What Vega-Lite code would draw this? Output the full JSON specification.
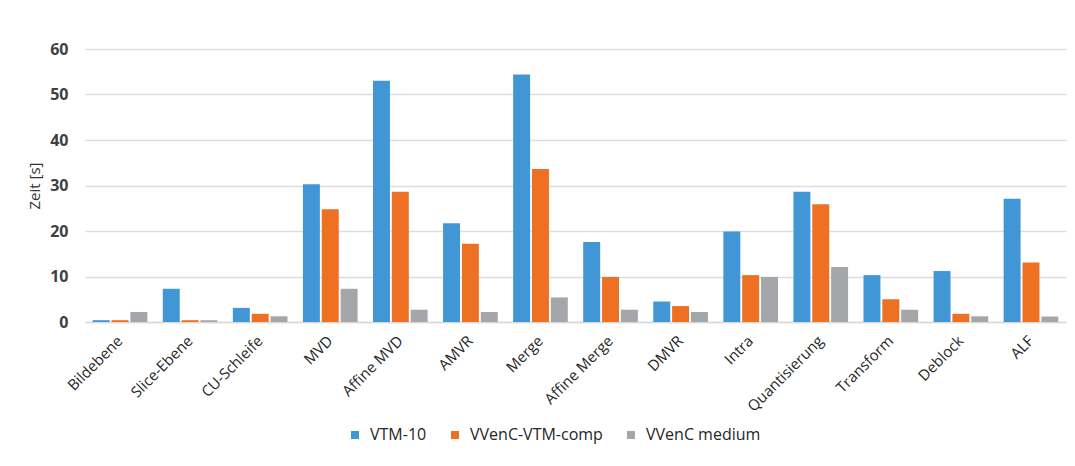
{
  "$schema": "https://vega.github.io/schema/vega-lite/v6.json",
  "autosize": "none",
  "width": 981,
  "height": 273,
  "padding": {"left": 85, "top": 49, "right": 9, "bottom": 144},
  "background": "white",
  "config": {
    "font": "Open Sans",
    "view": {"stroke": null}
  },
  "data": {
    "values": [
      {"k": "Bildebene", "s": "VTM-10", "v": 0.4},
      {"k": "Bildebene", "s": "VVenC-VTM-comp", "v": 0.4},
      {"k": "Bildebene", "s": "VVenC medium", "v": 2.2},
      {"k": "Slice-Ebene", "s": "VTM-10", "v": 7.3},
      {"k": "Slice-Ebene", "s": "VVenC-VTM-comp", "v": 0.4},
      {"k": "Slice-Ebene", "s": "VVenC medium", "v": 0.4},
      {"k": "CU-Schleife", "s": "VTM-10", "v": 3.1},
      {"k": "CU-Schleife", "s": "VVenC-VTM-comp", "v": 1.8},
      {"k": "CU-Schleife", "s": "VVenC medium", "v": 1.25},
      {"k": "MVD", "s": "VTM-10", "v": 30.3},
      {"k": "MVD", "s": "VVenC-VTM-comp", "v": 24.8},
      {"k": "MVD", "s": "VVenC medium", "v": 7.3},
      {"k": "Affine MVD", "s": "VTM-10", "v": 53.0},
      {"k": "Affine MVD", "s": "VVenC-VTM-comp", "v": 28.6},
      {"k": "Affine MVD", "s": "VVenC medium", "v": 2.7},
      {"k": "AMVR", "s": "VTM-10", "v": 21.7},
      {"k": "AMVR", "s": "VVenC-VTM-comp", "v": 17.2},
      {"k": "AMVR", "s": "VVenC medium", "v": 2.2},
      {"k": "Merge", "s": "VTM-10", "v": 54.4},
      {"k": "Merge", "s": "VVenC-VTM-comp", "v": 33.6},
      {"k": "Merge", "s": "VVenC medium", "v": 5.4},
      {"k": "Affine Merge", "s": "VTM-10", "v": 17.6},
      {"k": "Affine Merge", "s": "VVenC-VTM-comp", "v": 9.9},
      {"k": "Affine Merge", "s": "VVenC medium", "v": 2.7},
      {"k": "DMVR", "s": "VTM-10", "v": 4.5},
      {"k": "DMVR", "s": "VVenC-VTM-comp", "v": 3.5},
      {"k": "DMVR", "s": "VVenC medium", "v": 2.2},
      {"k": "Intra", "s": "VTM-10", "v": 19.9},
      {"k": "Intra", "s": "VVenC-VTM-comp", "v": 10.3},
      {"k": "Intra", "s": "VVenC medium", "v": 9.9},
      {"k": "Quantisierung", "s": "VTM-10", "v": 28.6},
      {"k": "Quantisierung", "s": "VVenC-VTM-comp", "v": 25.9},
      {"k": "Quantisierung", "s": "VVenC medium", "v": 12.1},
      {"k": "Transform", "s": "VTM-10", "v": 10.3},
      {"k": "Transform", "s": "VVenC-VTM-comp", "v": 5.0},
      {"k": "Transform", "s": "VVenC medium", "v": 2.7},
      {"k": "Deblock", "s": "VTM-10", "v": 11.2},
      {"k": "Deblock", "s": "VVenC-VTM-comp", "v": 1.8},
      {"k": "Deblock", "s": "VVenC medium", "v": 1.25},
      {"k": "ALF", "s": "VTM-10", "v": 27.1},
      {"k": "ALF", "s": "VVenC-VTM-comp", "v": 13.1},
      {"k": "ALF", "s": "VVenC medium", "v": 1.2}
    ]
  },
  "mark": {"type": "bar"},
  "encoding": {
    "x": {
      "field": "k",
      "type": "nominal",
      "sort": null,
      "scale": {"paddingInner": 0.22, "paddingOuter": 0.11},
      "axis": {
        "title": null,
        "labelAngle": -45,
        "labelAlign": "right",
        "labelBaseline": "middle",
        "labelFontSize": 15,
        "labelColor": "#262626",
        "labelPadding": 16,
        "ticks": false,
        "domainColor": "#d9d9d9",
        "domainWidth": 1.5,
        "labelOverlap": false
      }
    },
    "xOffset": {
      "field": "s",
      "type": "nominal",
      "sort": ["VTM-10", "VVenC-VTM-comp", "VVenC medium"],
      "scale": {"paddingInner": 0.1}
    },
    "y": {
      "field": "v",
      "type": "quantitative",
      "scale": {"domain": [0, 60], "nice": false},
      "axis": {
        "title": "Zeit [s]",
        "titleFontSize": 15,
        "titleFontWeight": "normal",
        "titleColor": "#333333",
        "titlePadding": 7,
        "values": [0, 10, 20, 30, 40, 50, 60],
        "labelFontSize": 16,
        "labelFontWeight": "bold",
        "labelColor": "#404040",
        "labelPadding": 17,
        "ticks": false,
        "domain": false,
        "grid": true,
        "gridColor": "#dcdde3",
        "gridWidth": 1.5
      }
    },
    "color": {
      "field": "s",
      "type": "nominal",
      "sort": ["VTM-10", "VVenC-VTM-comp", "VVenC medium"],
      "scale": {
        "domain": ["VTM-10", "VVenC-VTM-comp", "VVenC medium"],
        "range": ["#4197d6", "#ee7023", "#a5a6a9"]
      },
      "legend": {
        "title": null,
        "orient": "none",
        "direction": "horizontal",
        "legendX": 262,
        "legendY": 378,
        "symbolType": "square",
        "symbolSize": 64,
        "labelFontSize": 16,
        "labelColor": "#262626",
        "columnPadding": 20,
        "labelOffset": 7
      }
    }
  }
}
